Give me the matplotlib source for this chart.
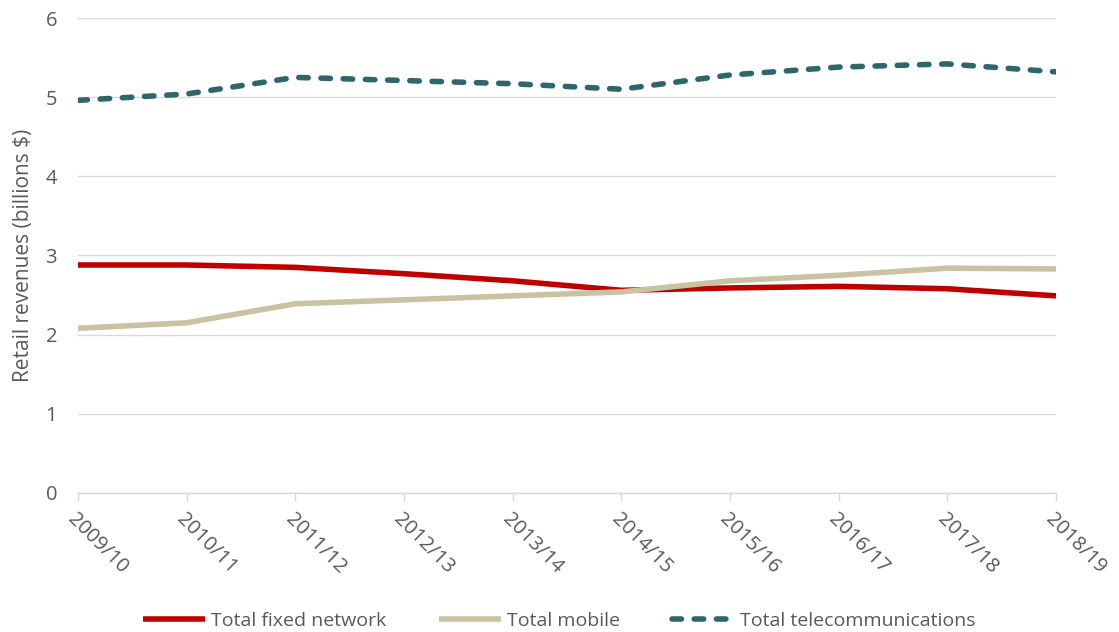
import matplotlib
matplotlib.use("Agg")
import matplotlib.pyplot as plt

plt.rcParams['font.family'] = ['Open Sans', 'DejaVu Sans']

# retail revenues, billions $
years = ['2009/10', '2010/11', '2011/12', '2012/13', '2013/14',
         '2014/15', '2015/16', '2016/17', '2017/18', '2018/19']
fixed_network = [2.88, 2.88, 2.85, 2.77, 2.68, 2.56, 2.59, 2.61, 2.58, 2.49]
mobile = [2.08, 2.15, 2.39, 2.44, 2.49, 2.54, 2.68, 2.75, 2.84, 2.83]
telecom = [4.96, 5.04, 5.25, 5.21, 5.17, 5.10, 5.28, 5.38, 5.42, 5.32]

text_col = '#595959'
grid_col = '#D9D9D9'

fig = plt.figure(figsize=(11.19, 6.32), dpi=100)
ax = fig.add_axes([0.0697, 0.22, 0.874, 0.7515])

x = list(range(len(years)))
ax.plot(x, fixed_network, color='#C00000', lw=4.0, solid_capstyle='butt',
        label='Total fixed network', zorder=3)
ax.plot(x, mobile, color='#C9C3A3', lw=4.0, solid_capstyle='butt',
        label='Total mobile', zorder=3)
ax.plot(x, telecom, color='#2F666B', lw=4.0, ls=(0, (1.7, 2.3)),
        dash_capstyle='round', label='Total telecommunications', zorder=3)

ax.set_xlim(0, len(years) - 1)
ax.set_ylim(0, 6)
ax.set_yticks(range(0, 7))
ax.grid(axis='y', color=grid_col, lw=1)
ax.set_axisbelow(True)

for s in ['left', 'right', 'top']:
    ax.spines[s].set_visible(False)
ax.spines['bottom'].set_color(grid_col)
ax.spines['bottom'].set_linewidth(1)

ax.set_xticks(x)
ax.set_xticklabels(years, rotation=-45, ha='left', rotation_mode='anchor')
ax.tick_params(axis='x', colors=grid_col, length=6, width=1, pad=6,
               labelcolor=text_col, labelsize=14.5)
ax.tick_params(axis='y', length=0, pad=15, labelcolor=text_col, labelsize=14.5)

ax.set_ylabel('Retail revenues (billions $)', color=text_col, fontsize=15,
              labelpad=8)

leg = fig.legend(loc='lower center', bbox_to_anchor=(0.5, -0.024), ncol=3,
                 frameon=False, fontsize=14, handlelength=3.2,
                 columnspacing=2.7, handletextpad=0.3)
for t in leg.get_texts():
    t.set_color(text_col)

fig.savefig('out.png', dpi=100)
